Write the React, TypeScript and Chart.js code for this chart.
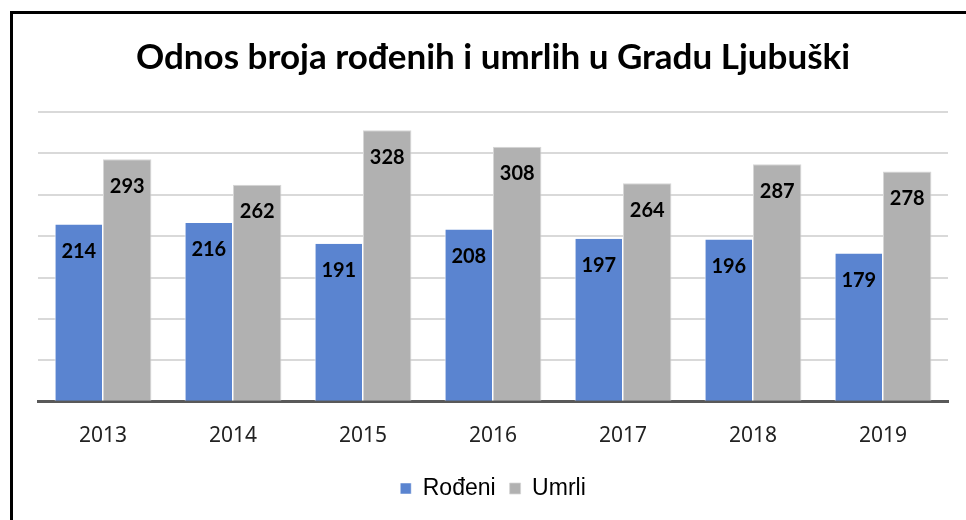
import React, { useEffect, useRef } from "react";
import { Chart, registerables } from "chart.js";

Chart.register(...registerables);

const categories = ["2013", "2014", "2015", "2016", "2017", "2018", "2019"];
const rodeni = [214, 216, 191, 208, 197, 196, 179];
const umrli = [293, 262, 328, 308, 264, 287, 278];
const seriesNames = ["Rođeni", "Umrli"];
const titleText = "Odnos broja rođenih i umrlih u Gradu Ljubuški";

const valueLabels = {
  id: "valueLabels",
  afterDatasetsDraw(chart: any) {
    const ctx = chart.ctx;
    ctx.save();
    ctx.font = "bold 20px Lato";
    ctx.fillStyle = "#000";
    ctx.textAlign = "center";
    ctx.textBaseline = "middle";
    chart.data.datasets.forEach((ds: any, i: number) => {
      const meta = chart.getDatasetMeta(i);
      meta.data.forEach((bar: any, j: number) => {
        ctx.fillText(String(ds.data[j]), bar.x, bar.y + 27);
      });
    });
    ctx.restore();
  },
};

export default function App() {
  const ref = useRef<HTMLCanvasElement>(null);
  useEffect(() => {
    document.body.style.margin = "0";
    const chart = new Chart(ref.current!, {
      type: "bar",
      data: {
        labels: categories,
        datasets: [
          {
            label: seriesNames[0],
            data: rodeni,
            backgroundColor: "#5a84d0",
            borderColor: "#ffffff",
            borderWidth: { left: 1, right: 1, top: 0, bottom: 0 },
          },
          {
            label: seriesNames[1],
            data: umrli,
            backgroundColor: "#b1b1b1",
            borderColor: "#d6d6d6",
            borderWidth: { left: 1, right: 1, top: 1, bottom: 0 },
          },
        ],
      },
      options: {
        animation: false,
        responsive: false,
        layout: { padding: { left: 38, right: 18, top: 37, bottom: 10 } },
        datasets: { bar: { categoryPercentage: 0.745, barPercentage: 1 } },
        plugins: {
          title: {
            display: true,
            text: titleText,
            color: "#000",
            font: { family: "Lato", size: 35, weight: "bold" },
            padding: { top: 0, bottom: 33 },
          },
          legend: {
            position: "bottom",
            labels: {
              color: "#000",
              font: { family: "Liberation Sans", size: 23 },
              boxWidth: 11,
              boxHeight: 11,
              padding: 14,
            },
          },
          tooltip: { enabled: false },
        },
        scales: {
          x: {
            grid: { display: false },
            border: { color: "#595959", width: 3 },
            ticks: {
              color: "#222",
              font: { family: "Noto Sans", size: 21 },
              padding: 14,
            },
          },
          y: {
            min: 0,
            max: 350,
            ticks: { display: false, stepSize: 50 },
            border: { display: false },
            grid: { color: "#d9d9d9", lineWidth: 2, drawTicks: false },
          },
        },
      },
      plugins: [valueLabels],
    });
    return () => chart.destroy();
  }, []);
  return (
    <div style={{ position: "fixed", left: 0, top: 0, width: 966, height: 520, background: "#fff" }}>
      <canvas ref={ref} width={966} height={520} style={{ position: "absolute", left: 0, top: 0 }} />
      <div
        style={{
          position: "absolute",
          left: 10,
          top: 11,
          width: 956,
          height: 509,
          borderLeft: "3px solid #000",
          borderTop: "3px solid #000",
          boxSizing: "border-box",
          pointerEvents: "none",
        }}
      />
    </div>
  );
}
